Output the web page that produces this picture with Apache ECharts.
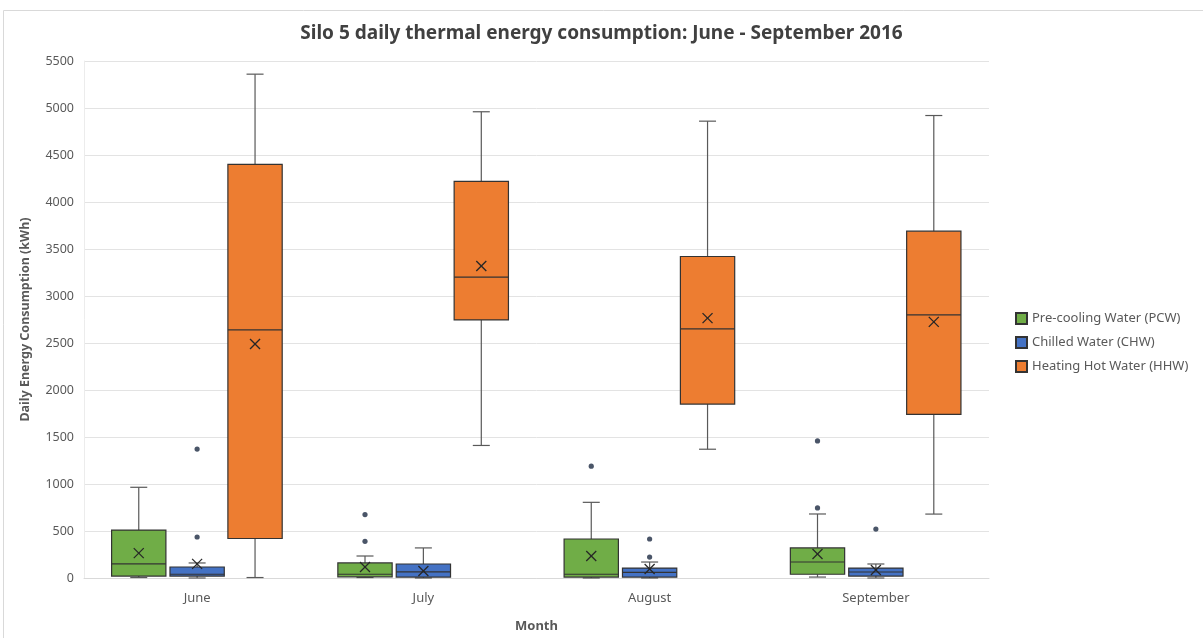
<!DOCTYPE html>
<html lang="en">
<head>
<meta charset="UTF-8">
<title>Silo 5 daily thermal energy consumption</title>
<script src="https://cdn.jsdelivr.net/npm/echarts@6/dist/echarts.min.js"></script>
<style>
  html, body { margin: 0; padding: 0; background: #fff; }
  #chart { width: 1203px; height: 638px; }
</style>
</head>
<body>
<div id="chart"></div>
<script>
// categories and series
var months = ['June', 'July', 'August', 'September'];
var names = ['Pre-cooling Water (PCW)', 'Chilled Water (CHW)', 'Heating Hot Water (HHW)'];
var yTicks = [0, 5500, 500]; // min, max, step

// [min, Q1, median, Q3, max] for each month
var pcwBox = [[5, 20, 150, 510, 965], [5, 12, 40, 160, 234], [0, 10, 40, 415, 805], [10, 40, 170, 320, 681]];
var chwBox = [[0, 20, 40, 117, 160], [0, 10, 65, 149, 320], [0, 10, 60, 106, 170], [0, 20, 64, 106, 149]];
var hhwBox = [[5, 420, 2640, 4400, 5360], [1410, 2745, 3200, 4220, 4960], [1370, 1850, 2650, 3420, 4860], [680, 1740, 2800, 3690, 4920]];

// means (the x marks)
var pcwMean = [265, 117, 234, 255];
var chwMean = [150, 75, 95, 85];
var hhwMean = [2490, 3320, 2765, 2725];

// outlier points per month
var pcwOut = [[], [390, 675], [1190], [745, 1458]];
var chwOut = [[436, 1372], [], [223, 415], [521]];
var hhwOut = [[], [], [], []];

var colors = ['#70ad47', '#4472c4', '#ed7d31'];
var offsets = [-0.258, 0, 0.256];

function boxRows(box, mean) {
    var rows = [];
    for (var i = 0; i < box.length; i++) {
        rows.push([i].concat(box[i]).concat([mean[i]]));
    }
    return rows;
}
function outRows(out) {
    var rows = [];
    for (var i = 0; i < out.length; i++) {
        for (var j = 0; j < out[i].length; j++) rows.push([i, out[i][j]]);
    }
    return rows;
}

function boxRenderer(k) {
    return function (params, api) {
        var cat = api.value(0);
        var band = api.size([1, 0])[0];
        var cx = api.coord([cat, 0])[0] + offsets[k] * band;
        var w = band * 0.24;
        var cap = 17;
        var y = [];
        for (var i = 1; i <= 6; i++) y.push(api.coord([cat, api.value(i)])[1]);
        var line = { stroke: '#595959', lineWidth: 1.2 };
        var xs = 5;
        return {
            type: 'group',
            children: [
                { type: 'line', shape: { x1: cx, y1: y[0], x2: cx, y2: y[1] }, style: line },
                { type: 'line', shape: { x1: cx, y1: y[3], x2: cx, y2: y[4] }, style: line },
                { type: 'line', shape: { x1: cx - cap / 2, y1: y[0], x2: cx + cap / 2, y2: y[0] }, style: line },
                { type: 'line', shape: { x1: cx - cap / 2, y1: y[4], x2: cx + cap / 2, y2: y[4] }, style: line },
                { type: 'rect', shape: { x: cx - w / 2, y: y[3], width: w, height: y[1] - y[3] },
                  style: { fill: colors[k], stroke: '#333', lineWidth: 1.2 } },
                { type: 'line', shape: { x1: cx - w / 2, y1: y[2], x2: cx + w / 2, y2: y[2] },
                  style: { stroke: '#333', lineWidth: 1.2 } },
                { type: 'line', shape: { x1: cx - xs, y1: y[5] - xs, x2: cx + xs, y2: y[5] + xs },
                  style: { stroke: '#262626', lineWidth: 1.3 } },
                { type: 'line', shape: { x1: cx - xs, y1: y[5] + xs, x2: cx + xs, y2: y[5] - xs },
                  style: { stroke: '#262626', lineWidth: 1.3 } }
            ]
        };
    };
}

function outRenderer(k) {
    return function (params, api) {
        var cat = api.value(0);
        var band = api.size([1, 0])[0];
        var p = api.coord([cat, api.value(1)]);
        return {
            type: 'circle',
            shape: { cx: p[0] + offsets[k] * band, cy: p[1], r: 2.6 },
            style: { fill: '#4a5568' }
        };
    };
}

var boxes = [pcwBox, chwBox, hhwBox];
var means = [pcwMean, chwMean, hhwMean];
var outs = [pcwOut, chwOut, hhwOut];
var series = [];
for (var k = 0; k < 3; k++) {
    series.push({
        name: names[k],
        type: 'custom',
        renderItem: boxRenderer(k),
        itemStyle: { color: colors[k], borderColor: '#333', borderWidth: 1 },
        encode: { x: 0, y: [1, 2, 3, 4, 5, 6] },
        data: boxRows(boxes[k], means[k])
    });
}
for (var k = 0; k < 3; k++) {
    series.push({
        name: names[k] + ' outliers',
        type: 'custom',
        renderItem: outRenderer(k),
        encode: { x: 0, y: 1 },
        data: outRows(outs[k])
    });
}

var myChart = echarts.init(document.getElementById('chart'));
myChart.setOption({
    animation: false,
    textStyle: { fontFamily: 'Noto Sans' },
    title: {
        text: 'Silo 5 daily thermal energy consumption: June - September 2016',
        left: 'center', top: 19,
        textStyle: { fontSize: 19, fontWeight: 'bold', color: '#404040' }
    },
    legend: {
        orient: 'vertical',
        left: 1010, top: 307,
        itemWidth: 11, itemHeight: 11, itemGap: 11,
        icon: 'rect',
        data: names,
        textStyle: { fontSize: 13, color: '#595959' }
    },
    graphic: [{
        type: 'rect',
        shape: { x: 3.5, y: 10.5, width: 1210, height: 640 },
        style: { fill: 'none', stroke: '#d9d9d9', lineWidth: 1 },
        silent: true
    }],
    grid: { left: 84, right: 214, top: 61, bottom: 60 },
    xAxis: {
        type: 'category',
        data: months,
        name: 'Month',
        nameLocation: 'middle',
        nameGap: 42,
        nameTextStyle: { fontSize: 13, fontWeight: 'bold', color: '#595959' },
        axisTick: { show: false },
        axisLine: { lineStyle: { color: '#d9d9d9' } },
        axisLabel: { fontSize: 13, color: '#595959', margin: 14 },
        splitLine: { show: false }
    },
    yAxis: {
        type: 'value',
        min: yTicks[0], max: yTicks[1], interval: yTicks[2],
        name: 'Daily Energy Consumption (kWh)',
        nameLocation: 'middle',
        nameGap: 52,
        nameTextStyle: { fontSize: 12.5, fontWeight: 'bold', color: '#595959' },
        axisLine: { show: true, lineStyle: { color: '#ececec' } },
        axisTick: { show: false },
        axisLabel: { fontSize: 12.5, color: '#595959', margin: 10, formatter: function (v) { return String(v); } },
        splitLine: { lineStyle: { color: '#e3e3e3' } }
    },
    series: series
});
</script>
</body>
</html>
